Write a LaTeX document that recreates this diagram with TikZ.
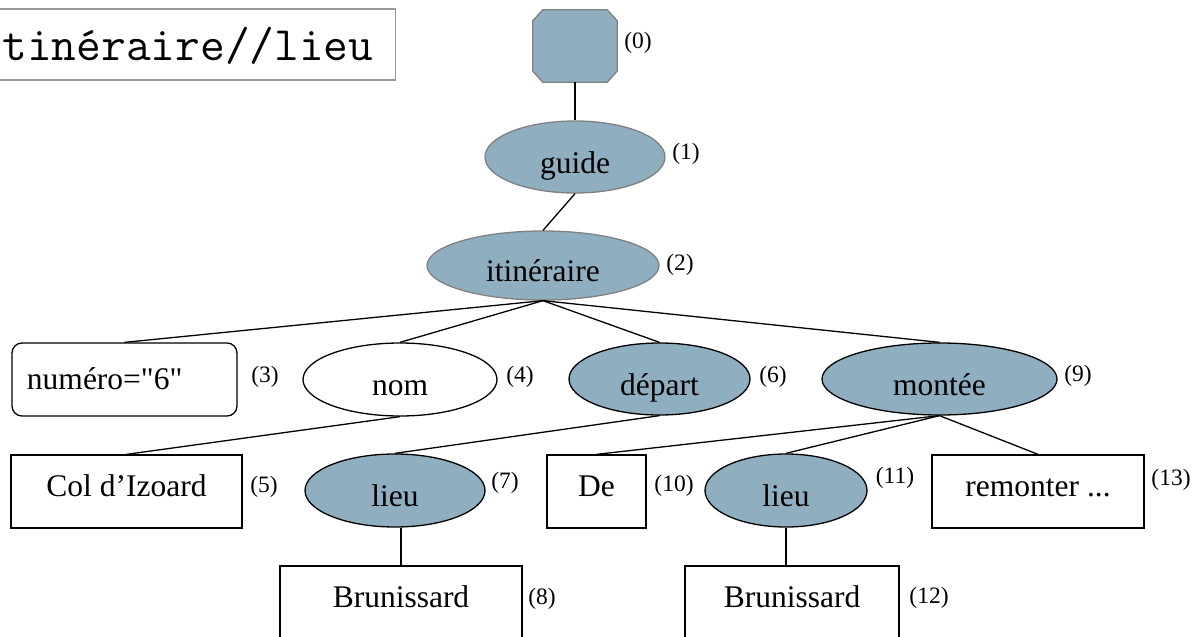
\documentclass[tikz,border=0pt]{standalone}
\usepackage{fontspec}
\setmainfont{Liberation Serif}[Ligatures=TeXOff]
\usepackage{tikz}
\usetikzlibrary{shapes, calc}
\definecolor{elemblue}{RGB}{143,174,191}
\definecolor{rimgray}{RGB}{128,128,128}
\tikzset{elem/.style={ellipse, draw=black, fill=elemblue, line width=1.3pt, inner sep=0pt, text height=32pt, text depth=0pt, font=\fontsize{31.5}{36}\selectfont},
rootelem/.style={elem, draw=rimgray},
txtbox/.style={rectangle, draw=black, line width=1.3pt, minimum height=73pt, inner sep=0pt, text height=10pt, text depth=0pt, font=\fontsize{31.5}{36}\selectfont},
num/.style={inner sep=0pt, font=\fontsize{23.5}{28}\selectfont},
link/.style={line width=1.3pt}}

\begin{document}
\begin{tikzpicture}[x=1pt, y=-1pt]
\useasboundingbox (0,0) rectangle (1195,637);
\node[draw=rimgray!80, line width=1.3pt, anchor=east, minimum height=71pt, inner xsep=22pt, inner ysep=0pt, text height=31pt, text depth=0pt, font=\ttfamily\fontsize{48}{56}\selectfont] (query) at (396,44.5) {itinéraire//lieu};
% root: octagon
\node[minimum width=84pt, minimum height=72pt, inner sep=0pt] (root) at (575,46) {};
\draw[draw=rimgray, fill=elemblue, line width=1.3pt] ($(root.north west)+(10,0)$) -- ($(root.north east)+(-10,0)$) -- ($(root.north east)+(0,11)$) -- ($(root.south east)+(0,-11)$) -- ($(root.south east)+(-10,0)$) -- ($(root.south west)+(10,0)$) -- ($(root.south west)+(0,-11)$) -- ($(root.north west)+(0,11)$) -- cycle;
\node[rootelem, minimum width=180pt, minimum height=72pt] (guide) at (575,157) {guide};
\node[rootelem, minimum width=232pt, minimum height=69pt] (itin) at (543,265.5) {itinéraire};
% second row
\node[txtbox, rounded corners=10pt, minimum width=225pt, text width=195pt, align=left, text height=19pt] (numero) at (124.5,379.5) {numéro="6"};
\node[elem, fill=white, minimum width=194pt, minimum height=73pt] (nom) at (400,379.5) {nom};
\node[elem, minimum width=181pt, minimum height=72pt] (depart) at (659.5,379) {départ};
\node[elem, minimum width=235pt, minimum height=72pt] (montee) at (939.5,379) {montée};
% third row
\node[txtbox, minimum width=231pt] (col) at (126.5,491.5) {Col d’Izoard};
\node[elem, minimum width=180pt, minimum height=73pt] (lieuA) at (395,490.5) {lieu};
\node[txtbox, minimum width=99pt] (de) at (596.5,491.5) {De};
\node[elem, minimum width=162pt, minimum height=73pt] (lieuB) at (786,490.5) {lieu};
\node[txtbox, minimum width=212pt] (remonter) at (1038,491.5) {remonter ...};
% fourth row
\node[txtbox, minimum width=242pt] (brunA) at (401,602.5) {Brunissard};
\node[txtbox, minimum width=214pt] (brunB) at (792,602.5) {Brunissard};
% numbers
\foreach \n/\x/\y in {0/638/43, 1/686/154, 2/680/265, 3/265/377, 4/520/377, 6/773/377, 9/1078/376, 5/264/487, 7/505/483, 10/674/486, 11/895/478, 13/1171/480, 8/542/599, 12/929/598}
  \node[num] (lab\n) at (\x,\y) {(\n)};
% tree
\draw[link] (root.south) -- (guide.north);
\draw[link] (guide.south) -- (itin.north);
\draw[link] (itin.south) -- (numero.north);
\draw[link] (itin.south) -- (nom.north);
\draw[link] (itin.south) -- (depart.north);
\draw[link] (itin.south) -- (montee.north);
\draw[link] (nom.south) -- (col.north);
\draw[link] (depart.south) -- (lieuA.north);
\draw[link] (montee.south) -- (de.north);
\draw[link] (montee.south) -- (lieuB.north);
\draw[link] (montee.south) -- (remonter.north);
\draw[link] (lieuA.south -| brunA.north) -- (brunA.north);
\draw[link] (lieuB.south) -- (lieuB.south |- brunB.north);
\end{tikzpicture}
\end{document}
